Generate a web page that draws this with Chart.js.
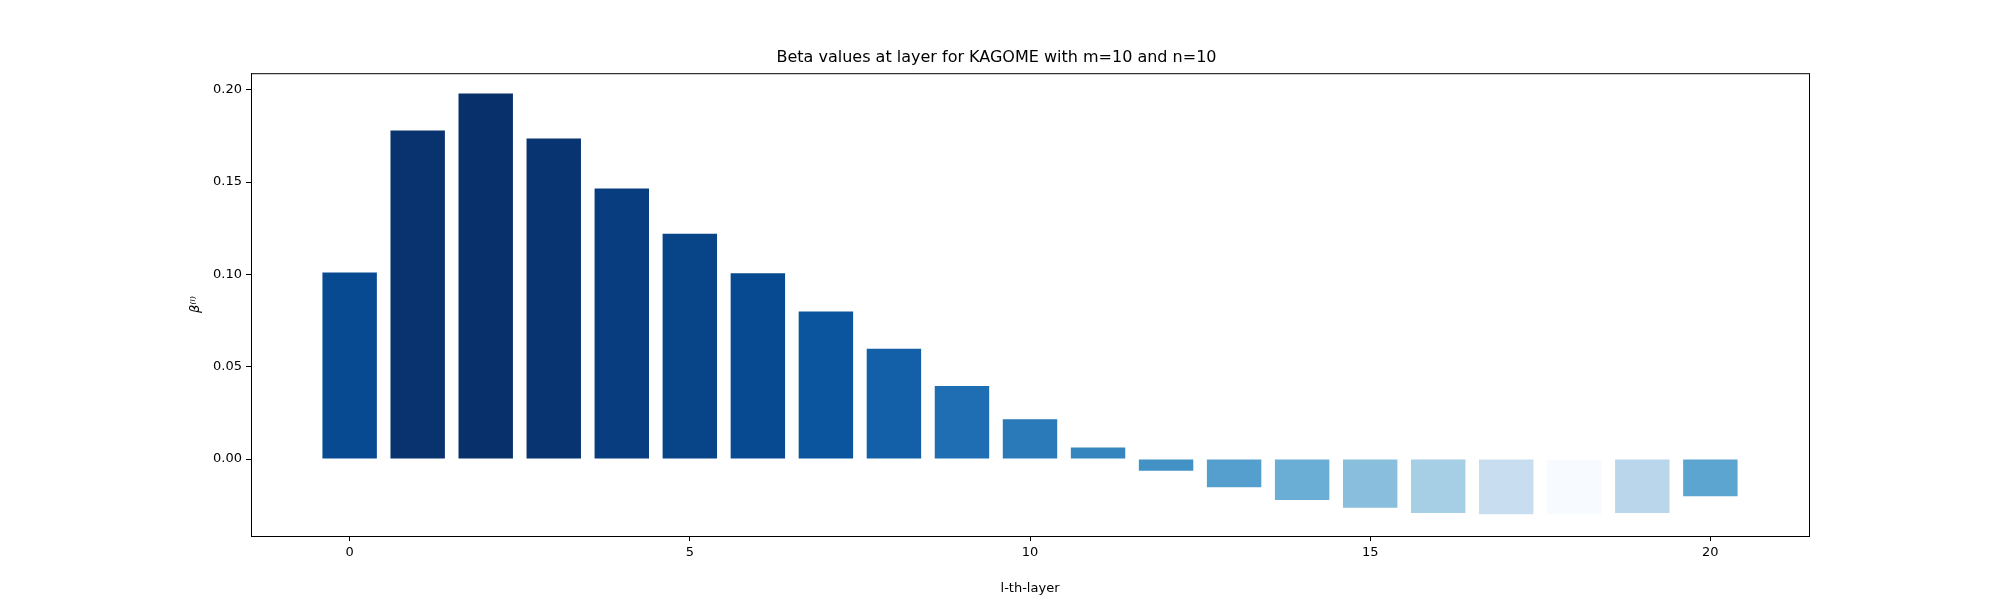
<!DOCTYPE html>
<html>
<head>
<meta charset="utf-8">
<script src="https://cdn.jsdelivr.net/npm/chart.js@4"></script>
<style>
  html, body { margin: 0; padding: 0; background: #fff; }
  #wrap { width: 2000px; height: 600px; }
</style>
</head>
<body>
<div id="wrap"><canvas id="chart"></canvas></div>
<script>
const layers = [0, 1, 2, 3, 4, 5, 6, 7, 8, 9, 10, 11, 12, 13, 14, 15, 16, 17, 18, 19, 20];
const betaValues = [0.101, 0.178, 0.198, 0.1736, 0.1465, 0.122, 0.1007, 0.0799, 0.0597, 0.0396, 0.0215,
    0.0063, -0.0063, -0.0153, -0.0222, -0.0264, -0.0292, -0.0299, -0.0299, -0.0292, -0.0201];
const barColors = ['#084a91', '#08336e', '#08306b', '#083471', '#083d7f', '#084488', '#084a91', '#0b559f',
    '#1460a8', '#1f6eb3', '#2a7ab9', '#3585bf', '#4292c6', '#549fcd', '#6aaed6', '#89bedc', '#a6cee4',
    '#c9ddf0', '#f7fbff', '#bad6eb', '#5da5d1'];
const yTicks = [0, 0.05, 0.10, 0.15, 0.20];
const xTicks = [0, 5, 10, 15, 20];

Chart.defaults.font.family = 'DejaVu Sans';
Chart.defaults.color = '#000';

// frame around the plot area, like matplotlib's spines
const frame = {
    id: 'frame',
    afterDraw(chart) {
        const { ctx, chartArea: a } = chart;
        ctx.save();
        ctx.strokeStyle = '#000';
        ctx.lineWidth = 1;
        ctx.strokeRect(a.left + 0.5, a.top + 0.5, a.right - a.left, a.bottom - a.top);
        ctx.restore();
    }
};

new Chart(document.getElementById('chart'), {
    type: 'bar',
    data: {
        datasets: [{
            data: layers.map((l, i) => ({ x: l, y: betaValues[i] })),
            backgroundColor: barColors,
            barPercentage: 0.8,
            categoryPercentage: 1
        }]
    },
    options: {
        responsive: true,
        maintainAspectRatio: false,
        animation: false,
        layout: { padding: { left: 184, right: 191, top: 0, bottom: 0 } },
        plugins: {
            legend: { display: false },
            tooltip: { enabled: false },
            title: {
                display: true,
                text: 'Beta values at layer for KAGOME with m=10 and n=10',
                font: { size: 16, weight: 'normal' },
                padding: { top: 48, bottom: 6 }
            }
        },
        scales: {
            x: {
                type: 'linear',
                offset: false,
                min: -1.45,
                max: 21.45,
                afterBuildTicks: s => { s.ticks = xTicks.map(v => ({ value: v })); },
                afterFit: s => { s.height = 64; },
                ticks: { font: { size: 13 }, padding: 4 },
                grid: { drawOnChartArea: false, offset: false, tickLength: 5, color: '#000' },
                border: { color: '#000' },
                title: { display: true, text: 'l-th-layer', font: { size: 13 }, padding: { top: 4 } }
            },
            y: {
                min: -0.0417,
                max: 0.209,
                afterBuildTicks: s => { s.ticks = yTicks.map(v => ({ value: v })); },
                afterFit: s => { s.width = 67; },
                ticks: { font: { size: 13 }, padding: 4, callback: v => v.toFixed(2) },
                grid: { drawOnChartArea: false, tickLength: 5, color: '#000' },
                border: { color: '#000' },
                title: { display: true, text: 'β⁽ˡ⁾', font: { size: 13, style: 'italic' }, padding: { bottom: 4 } }
            }
        }
    },
    plugins: [frame]
});
</script>
</body>
</html>
